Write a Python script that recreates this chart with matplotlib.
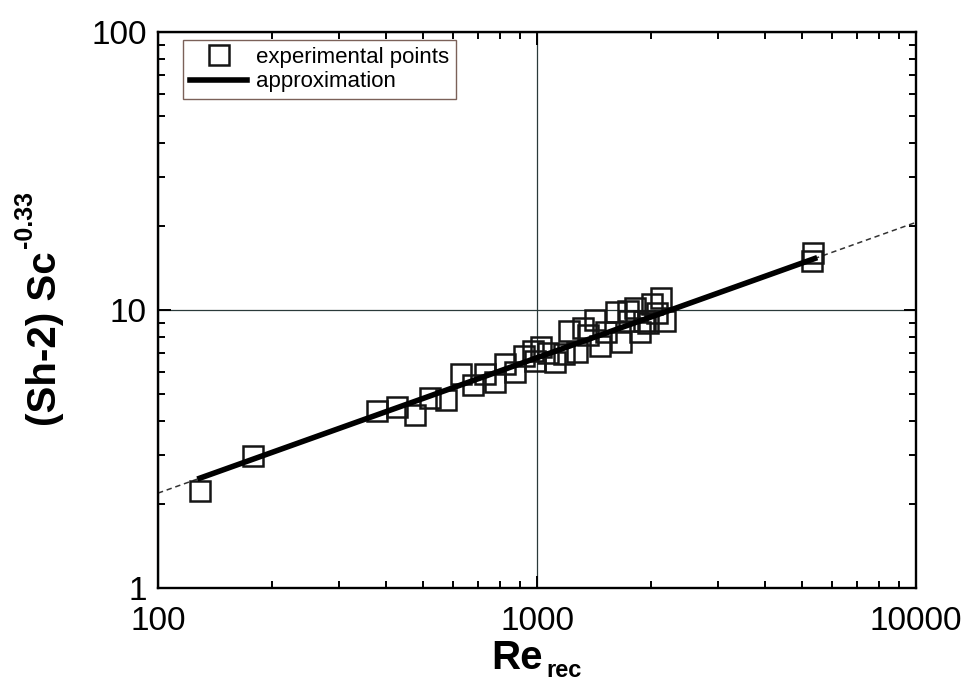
import numpy as np
import matplotlib
matplotlib.use('Agg')
import matplotlib.pyplot as plt
from matplotlib.ticker import LogLocator, FuncFormatter, NullFormatter

plt.rcParams['font.family'] = ['Liberation Sans', 'DejaVu Sans']

# experimental points
re_rec = [129, 178, 378, 427, 477, 522, 575, 630, 676, 729, 773, 823, 875, 924,
          973, 988, 1025, 1066, 1116, 1179, 1215, 1275, 1319, 1363, 1418, 1466,
          1521, 1616, 1666, 1733, 1749, 1814, 1870, 1916, 1963, 2011, 2073,
          2124, 2177, 5348, 5316]
sh_sc = [2.23, 2.98, 4.33, 4.48, 4.19, 4.83, 4.75, 5.89, 5.37, 5.89, 5.51, 6.42,
         5.98, 6.83, 7.12, 6.55, 7.36, 7.00, 6.50, 6.95, 8.40, 7.06, 8.61, 8.13,
         9.20, 7.42, 8.33, 9.83, 7.67, 9.92, 9.13, 10.17, 8.33, 9.13, 8.98,
         10.51, 9.75, 11.04, 9.13, 16.03, 15.0]

# approximation y = C * Re^n
fit_c = 0.233
fit_n = 0.487
fit_range = [129, 5400]
ext_range = [100, 10000]

fig = plt.figure(figsize=(9.67, 6.82), dpi=100)
ax = fig.add_axes([0.1634, 0.1378, 0.7839, 0.8153])

x_ext = np.logspace(np.log10(ext_range[0]), np.log10(ext_range[1]), 50)
ax.plot(x_ext, fit_c * x_ext ** fit_n, ls=(0, (3.5, 2.5)), color='#333333', lw=1.1, zorder=2)

ax.plot(re_rec, sh_sc, ls='none', marker='s', ms=14, mfc='none', mec='#151515',
        mew=1.8, label='experimental points', zorder=3)

x_fit = np.logspace(np.log10(fit_range[0]), np.log10(fit_range[1]), 50)
ax.plot(x_fit, fit_c * x_fit ** fit_n, color='black', lw=4.0,
        label='approximation', zorder=4)

ax.set_xscale('log')
ax.set_yscale('log')
ax.set_xlim(100, 10000)
ax.set_ylim(1, 100)

fmt = FuncFormatter(lambda v, p: '%g' % v)
for axis in (ax.xaxis, ax.yaxis):
    axis.set_major_locator(LogLocator(base=10))
    axis.set_minor_locator(LogLocator(base=10, subs=np.arange(2, 10)))
    axis.set_major_formatter(fmt)
    axis.set_minor_formatter(NullFormatter())

ax.tick_params(which='both', direction='in', top=True, right=True, width=1.4,
               labelsize=24, colors='black')
ax.tick_params(which='major', length=9, pad=8)
ax.tick_params(axis='x', which='major', pad=13)
ax.tick_params(which='minor', length=5)
for s in ax.spines.values():
    s.set_linewidth(1.7)

ax.grid(True, which='major', color='#2a3a3a', lw=0.9)

# axis titles with their sub/superscripts
fig.text(543 / 967, 13 / 682, 'Re', fontsize=29, fontweight='bold',
         ha='right', va='baseline')
fig.text(546 / 967, 5 / 682, 'rec', fontsize=17, fontweight='bold',
         ha='left', va='baseline')
fig.text(45 / 967, 1 - 426 / 682, '(Sh-2) Sc', fontsize=29, fontweight='bold',
         rotation=90, ha='center', va='bottom')
fig.text(25 / 967, 1 - 248 / 682, '-0.33', fontsize=18, fontweight='bold',
         rotation=90, ha='center', va='bottom')

leg = ax.legend(loc='upper left', bbox_to_anchor=(0.033, 0.985), fontsize=16,
                frameon=True, fancybox=False, edgecolor='#5a3a30',
                handlelength=2.6, handletextpad=0.4, borderaxespad=0,
                labelspacing=0.15, borderpad=0.3)
leg.get_frame().set_linewidth(1.0)

fig.savefig('out.png', dpi=100)
